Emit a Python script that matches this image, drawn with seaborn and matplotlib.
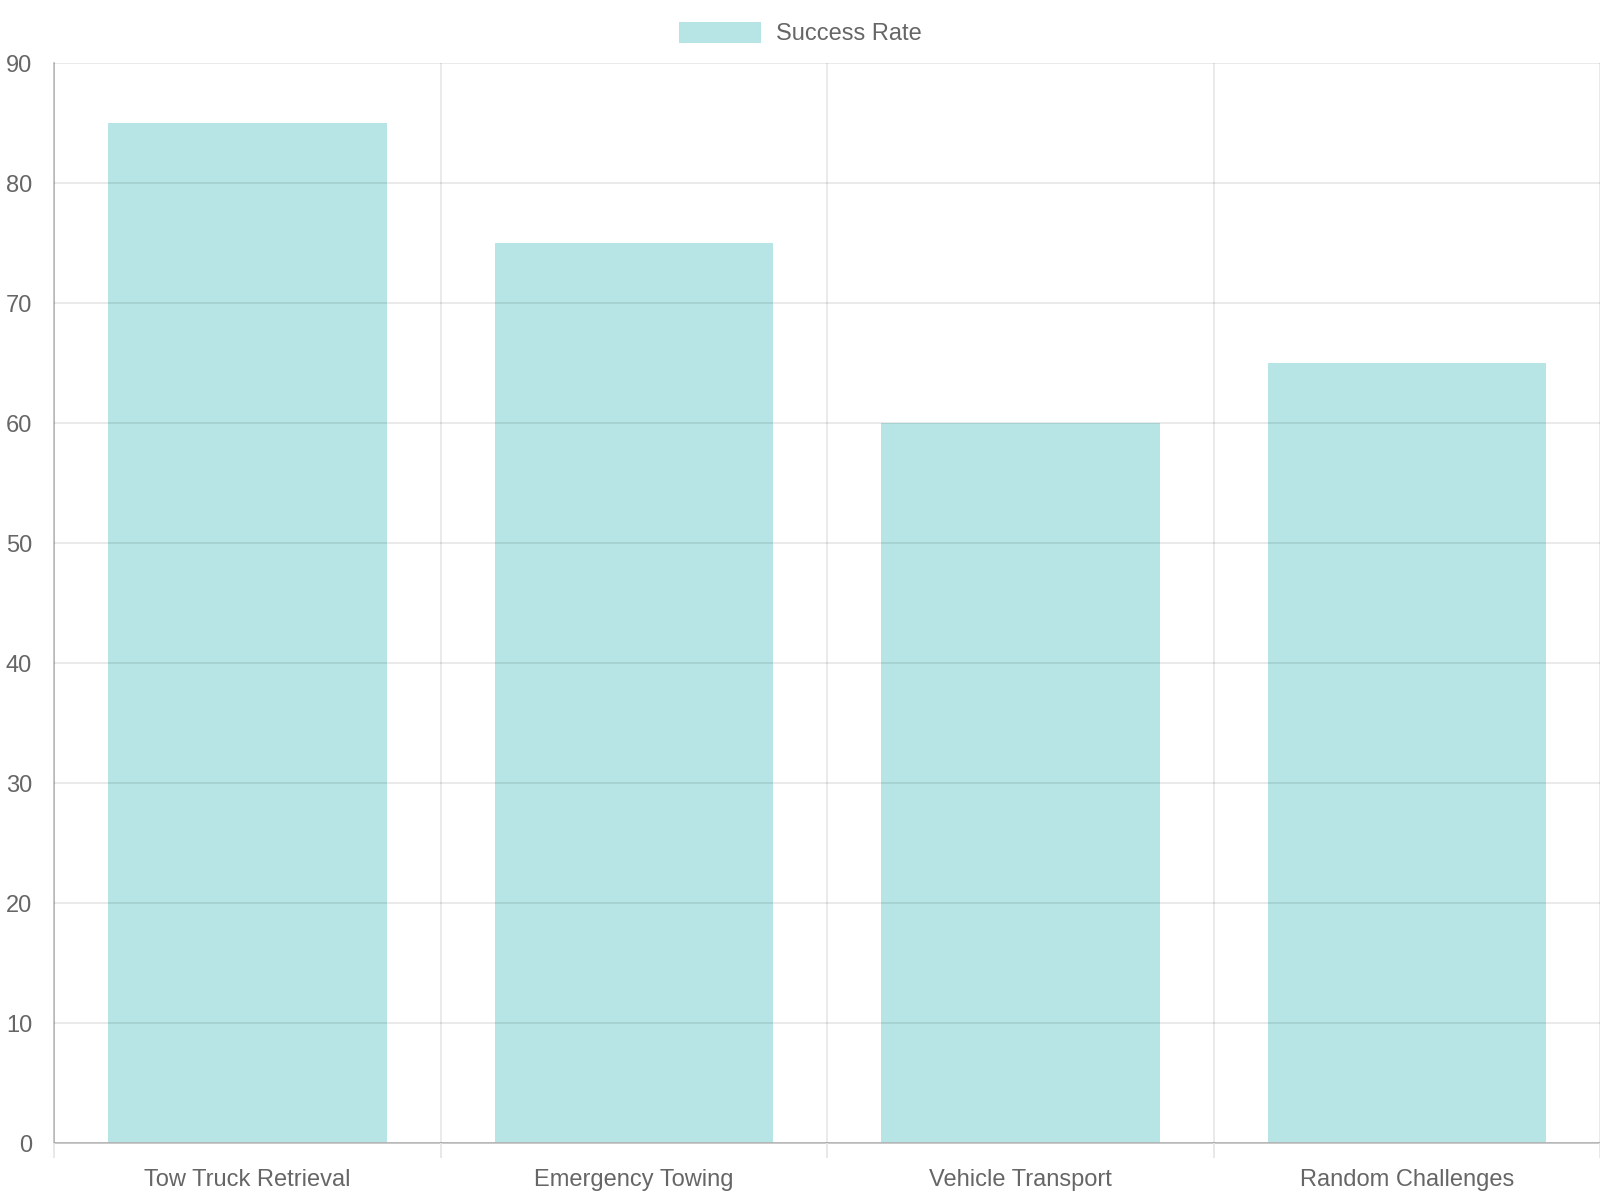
import matplotlib
matplotlib.use("Agg")
import matplotlib.pyplot as plt
from matplotlib.patches import Patch
from matplotlib.ticker import MultipleLocator, FixedLocator
import seaborn as sns
import pandas as pd

categories = ["Tow Truck Retrieval", "Emergency Towing", "Vehicle Transport", "Random Challenges"]
success_rate = [85, 75, 60, 65]
series_label = "Success Rate"

sns.set_theme(style="white")
plt.rcParams['font.family'] = ['Liberation Sans', 'DejaVu Sans']

df = pd.DataFrame({"category": categories, "value": success_rate})

fig = plt.figure(figsize=(16, 12), dpi=100)
ax = fig.add_axes([0.034, 0.0475, 0.966, 0.9])

bar_color = (75/255, 192/255, 192/255, 0.4)
sns.barplot(data=df, x="category", y="value", ax=ax, color=bar_color,
            width=0.72, saturation=1, edgecolor="none", linewidth=0, zorder=1)
for p in ax.patches:
    p.set_facecolor(bar_color)

ax.set_xlim(-0.5, len(categories) - 0.5)
ax.set_ylim(0, 90)
ax.yaxis.set_major_locator(MultipleLocator(10))
ax.xaxis.set_minor_locator(FixedLocator([i - 0.5 for i in range(len(categories) + 1)]))

ax.grid(False)
ax.set_axisbelow(False)
ax.yaxis.grid(True, which="major", color="black", alpha=0.09, linewidth=1.3, zorder=2)
ax.xaxis.grid(True, which="minor", color="black", alpha=0.09, linewidth=1.3, zorder=2)

for s in ["top", "right"]:
    ax.spines[s].set_visible(False)
for s in ["left", "bottom"]:
    ax.spines[s].set_color("#c4c4c4")
    ax.spines[s].set_linewidth(1.3)

tick_c = "#e6e6e6"
ax.tick_params(axis="y", which="major", length=11, width=1.3, color=tick_c,
               pad=5, labelsize=17, labelcolor="#666666")
ax.tick_params(axis="x", which="major", length=0, pad=19, labelsize=17, labelcolor="#666666")
ax.tick_params(axis="x", which="minor", length=11, width=1.3, color=tick_c, bottom=True)

ax.set_xlabel("")
ax.set_ylabel("")

handle = Patch(facecolor=bar_color, edgecolor="none")
fig.legend([handle], [series_label], loc="center", bbox_to_anchor=(0.5, 0.972),
           frameon=False, fontsize=17, labelcolor="#666666",
           handlelength=3.5, handleheight=1.0, handletextpad=0.6)

fig.savefig("out.png", dpi=100)
